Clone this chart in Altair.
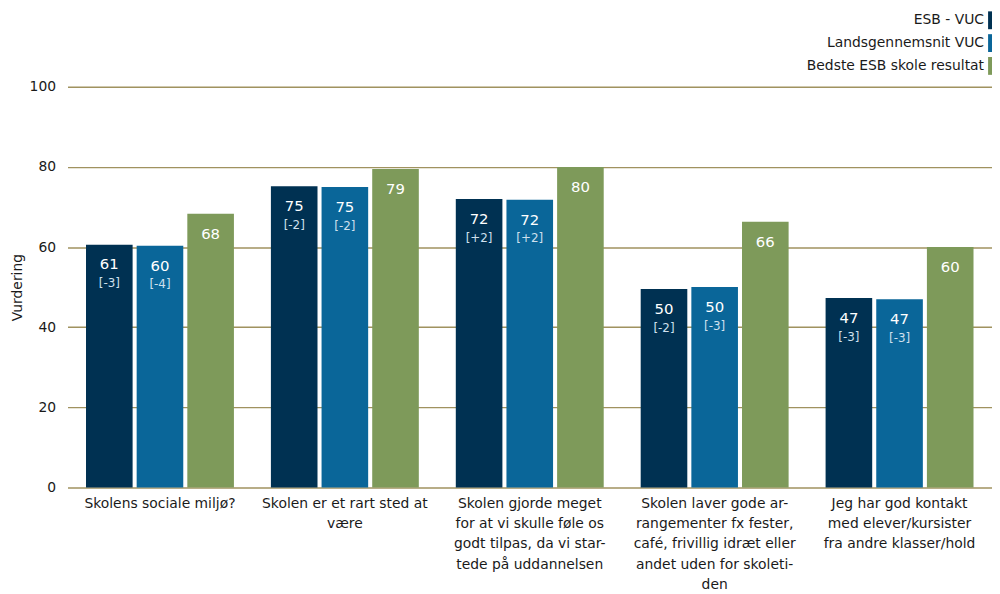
import altair as alt
import pandas as pd

categories = [
    "Skolens sociale miljø?",
    "Skolen er et rart sted at\nvære",
    "Skolen gjorde meget\nfor at vi skulle føle os\ngodt tilpas, da vi star-\ntede på uddannelsen",
    "Skolen laver gode ar-\nrangementer fx fester,\ncafé, frivillig idræt eller\nandet uden for skoleti-\nden",
    "Jeg har god kontakt\nmed elever/kursister\nfra andre klasser/hold",
]
series = ["ESB - VUC", "Landsgennemsnit VUC", "Bedste ESB skole resultat"]
colors = ["#003152", "#0a6699", "#7e9a5a"]

esb_vals = [60.6, 75.2, 72.0, 49.5, 47.3]
lands_vals = [60.3, 75.0, 71.8, 50.0, 47.0]
best_vals = [68.3, 79.5, 80.0, 66.3, 60.0]

esb_labels = ["61", "75", "72", "50", "47"]
lands_labels = ["60", "75", "72", "50", "47"]
best_labels = ["68", "79", "80", "66", "60"]

esb_delta = ["[-3]", "[-2]", "[+2]", "[-2]", "[-3]"]
lands_delta = ["[-4]", "[-2]", "[+2]", "[-3]", "[-3]"]
best_delta = ["", "", "", "", ""]

rows = []
for s, vals, labs, dels in [
    (series[0], esb_vals, esb_labels, esb_delta),
    (series[1], lands_vals, lands_labels, lands_delta),
    (series[2], best_vals, best_labels, best_delta),
]:
    for c, v, l, d in zip(categories, vals, labs, dels):
        rows.append({"cat": c, "series": s, "value": v, "label": l, "delta": d})
df = pd.DataFrame(rows)

FONT = "DejaVu Sans"

x_enc = alt.X(
    "cat:N",
    sort=categories,
    title=None,
    scale=alt.Scale(paddingInner=0.2, paddingOuter=0.1),
    axis=alt.Axis(
        labelAngle=0,
        labelExpr="split(datum.label, '\\n')",
        labelFont=FONT,
        labelFontSize=14,
        labelColor="#1a1a1a",
        labelLineHeight=20.5,
        labelPadding=9,
        ticks=False,
        domain=False,
        labelLimit=300,
    ),
)
xoff = alt.XOffset("series:N", sort=series, scale=alt.Scale(paddingInner=0.08))
y_enc = alt.Y(
    "value:Q",
    scale=alt.Scale(domain=[0, 100]),
    title="Vurdering",
    axis=alt.Axis(
        values=[0, 20, 40, 60, 80, 100],
        grid=True,
        gridColor="#a0925f",
        gridWidth=1.4,
        ticks=False,
        domain=False,
        labelFont=FONT,
        labelFontSize=14,
        labelColor="#1a1a1a",
        labelPadding=12,
        titleFont=FONT,
        titleFontSize=14,
        titleFontWeight="normal",
        titleColor="#1a1a1a",
        titlePadding=5,
    ),
)

bars = alt.Chart(df).mark_bar().encode(
    x=x_enc,
    xOffset=xoff,
    y=y_enc,
    color=alt.Color(
        "series:N",
        sort=series,
        scale=alt.Scale(domain=series, range=colors),
        legend=alt.Legend(
            title=None,
            orient="none",
            legendX=924,
            legendY=-76,
            symbolType="M-0.55,-1 L0.55,-1 L0.55,1 L-0.55,1 Z",
            symbolSize=324,
            symbolStrokeWidth=0,
            symbolOpacity=1,
            labelAlign="right",
            labelOffset={"expr": "-18"},
            labelFont=FONT,
            labelFontSize=14,
            labelColor="#1a1a1a",
            rowPadding=5,
            labelLimit=400,
        ),
    ),
)

vals = alt.Chart(df).mark_text(
    color="white", font=FONT, fontSize=15, baseline="middle", dy=20
).encode(x=alt.X("cat:N", sort=categories), xOffset=xoff, y="value:Q", text="label:N")

deltas = alt.Chart(df).mark_text(
    color="#cfe0ee", font=FONT, fontSize=12, baseline="middle", dy=39
).encode(x=alt.X("cat:N", sort=categories), xOffset=xoff, y="value:Q", text="delta:N")

chart = (
    alt.layer(bars, vals, deltas)
    .properties(
        width=932,
        height=404,
        padding={"left": 60, "top": 77, "right": 0, "bottom": 106},
        autosize=alt.AutoSizeParams(type="none"),
    )
    .configure_view(stroke=None)
)

chart.save("out.html", embed_options={"renderer": "svg", "actions": False})
